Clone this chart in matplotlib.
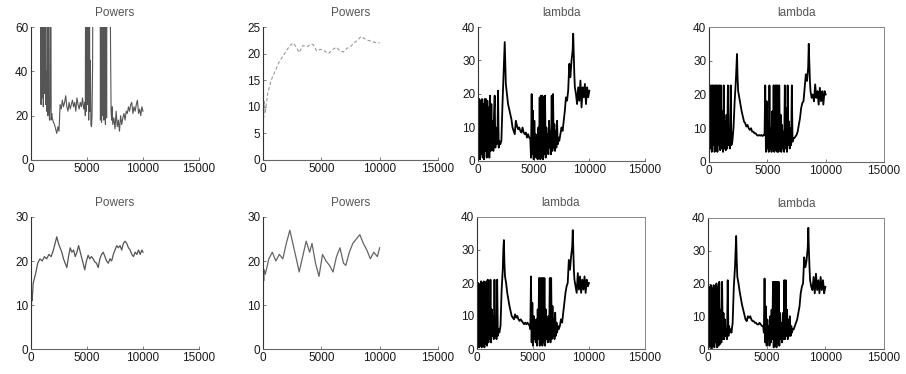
import matplotlib
matplotlib.use("Agg")
import matplotlib.pyplot as plt

plt.rcParams["font.family"] = ["Liberation Sans", "DejaVu Sans"]

W, H = 906, 374

# ---- Powers, top row (clipped at 60) ----
pw1_x = [0, 300, 600, 850, 900, 950, 1000, 1050, 1100, 1150, 1200, 1250, 1300, 1350, 1400, 1450,
         1500, 1550, 1600, 1650, 1700, 1750, 1800, 1850, 1900, 2000, 2100, 2200, 2300, 2400, 2500,
         2600, 2700, 2800, 2900, 3000, 3100, 3200, 3300, 3400, 3500, 3600, 3700, 3800, 3900, 4000,
         4100, 4200, 4300, 4400, 4500, 4600, 4700, 4800, 4850, 4900, 4950, 5000, 5050, 5100, 5150,
         5200, 5250, 5300, 5350, 5400, 5450, 5500, 5550, 5600, 5900, 6150, 6200, 6250, 6300, 6350,
         6400, 6450, 6500, 6550, 6600, 6650, 6700, 6750, 6800, 6900, 7000, 7100, 7150, 7200, 7250,
         7300, 7400, 7500, 7600, 7700, 7800, 7900, 8000, 8100, 8200, 8300, 8400, 8500, 8600, 8700,
         8800, 8900, 9000, 9100, 9200, 9300, 9400, 9500, 9600, 9700, 9800, 9900, 10000]
pw1_y = [200, 180, 160, 120, 25, 150, 28, 150, 24, 120, 30, 150, 25, 40, 22, 150,
         20, 150, 26, 18, 24, 150, 18, 21, 19, 17, 16, 14, 12, 15, 13,
         25, 23, 27, 24, 26, 29, 24, 22, 26, 23, 25, 27, 24, 26, 22,
         28, 25, 23, 26, 24, 28, 23, 26, 20, 150, 22, 150, 25, 150, 18,
         150, 22, 45, 16, 15, 20, 43, 120, 150, 150, 150, 18, 150, 17, 150,
         20, 150, 18, 150, 21, 16, 150, 19, 150, 150, 150, 53, 22, 18, 24,
         16, 19, 14, 22, 15, 18, 13, 20, 16, 19, 21, 18, 22, 21, 24,
         22, 25, 26, 21, 24, 22, 25, 27, 21, 23, 20, 24, 22]

pw2_x = [0, 30, 60, 100, 200, 400, 700, 1000, 1400, 1700, 2000, 2300, 2600, 2900, 3100, 3400,
         3800, 4100, 4300, 4600, 4900, 5200, 5600, 6000, 6300, 6600, 6900, 7200, 7500, 7800,
         8100, 8400, 8700, 9000, 9300, 9600, 10000]
pw2_y = [2, 14, 8, 11, 9, 12.5, 15, 16.5, 18.5, 19.5, 20.5, 21.5, 22, 21, 20.2, 21.5,
         21.3, 21.8, 21.7, 20.5, 20.8, 20.6, 20, 20.8, 21.2, 20.5, 20.3, 21, 21.3, 22,
         22.5, 23.2, 22.8, 22.5, 22.3, 22.1, 22]

# ---- Powers, bottom row ----
pw3_x = [0, 30, 60, 100, 200, 400, 600, 800, 1000, 1200, 1400, 1600, 1800, 2000, 2150, 2300,
         2450, 2600, 2750, 2900, 3050, 3200, 3350, 3500, 3650, 3800, 3950, 4100, 4250, 4400,
         4550, 4700, 4800, 4950, 5100, 5250, 5400, 5550, 5700, 5850, 6000, 6150, 6300, 6450,
         6600, 6750, 6900, 7050, 7200, 7350, 7500, 7650, 7800, 7950, 8100, 8250, 8400, 8550,
         8700, 8850, 9000, 9150, 9300, 9450, 9600, 9750, 9900, 10000]
pw3_y = [29, 8, 13, 11, 15, 17, 19.5, 20.5, 20, 21, 20.5, 21.5, 21, 22.5, 24, 25.5,
         24, 23, 22, 20.5, 19.5, 18.5, 21, 23, 22, 22.5, 21, 22, 23.5, 22,
         20.5, 19, 18, 20, 21.3, 20.5, 21, 20.5, 19.8, 19.5, 18.5, 20.5, 21.5, 22,
         21, 20, 19.5, 20.5, 20, 21.5, 22.5, 23.5, 23, 23.5, 22.5, 24, 24.5, 24,
         23, 22.5, 21.5, 21, 22, 21.5, 22.5, 21.5, 22.5, 22]

pw4_x = [0, 30, 60, 100, 200, 500, 800, 1100, 1400, 1700, 2000, 2300, 2600, 2900, 3100, 3400,
         3700, 4000, 4200, 4500, 4800, 5100, 5400, 5700, 6000, 6300, 6600, 6900, 7100, 7400,
         7700, 8000, 8300, 8600, 8900, 9200, 9500, 9800, 10000]
pw4_y = [7, 17, 15.5, 18, 17, 20.5, 22, 20, 21.5, 20.5, 24, 27, 23.5, 20, 17.5, 21,
         24.5, 22, 24, 19.5, 16.5, 21.5, 20, 19, 17.5, 21, 23, 19.5, 19, 22,
         24, 25, 26, 24, 22.5, 20.5, 22, 21, 23]

# ---- lambda, shared iteration grid ----
lam_x = [0, 60, 120, 180, 240, 300, 360, 420, 480, 540, 600, 660, 720, 780, 840, 900, 960,
         1020, 1080, 1140, 1200, 1260, 1320, 1380, 1440, 1500, 1560, 1620, 1680, 1740, 1800,
         1860, 1920,
         2000, 2100, 2200, 2300, 2350, 2400, 2450, 2500, 2600, 2700, 2800, 2900, 3000, 3100,
         3200, 3300, 3400, 3500, 3600, 3700, 3800, 3900, 4000, 4100, 4200, 4300, 4400, 4500,
         4600, 4700,
         4760, 4820, 4880, 4940, 5000, 5060, 5120, 5180, 5240, 5300, 5360, 5420, 5480, 5540,
         5600, 5660, 5720, 5780, 5840, 5900, 5960, 6020, 6080, 6140, 6200, 6260, 6320, 6380,
         6440, 6500, 6560, 6620, 6680, 6740, 6800, 6860, 6920, 6980, 7040, 7100, 7160, 7220,
         7300, 7400, 7500, 7600, 7700, 7800, 7900, 8000, 8100, 8200, 8300, 8400, 8500, 8550,
         8600, 8650, 8700, 8800, 8900, 9000, 9100, 9200, 9300, 9400, 9500, 9600, 9700, 9800,
         9900, 10000]

lam1_y = [15, 1, 18.5, 0.5, 18, 2, 18.5, 1, 17, 0.5, 18.5, 3, 18.5, 1, 18, 2, 16,
          1, 19.5, 3, 17, 4, 12, 3, 14, 19.5, 4, 10, 5, 6, 21,
          4, 6,
          5, 6, 17, 26, 31, 35.5, 29, 23, 20, 17, 15.5, 14, 12.5, 10,
          9, 8, 12, 10.5, 9.5, 10, 9, 8.5, 10, 8.5, 8, 8.5, 7, 8,
          7, 6.5,
          1, 20, 2, 15, 0.5, 12, 3, 8, 1, 6, 0.5, 10, 2, 19,
          0.5, 19.5, 1, 19.5, 0.5, 19, 2, 19.5, 1, 10, 3, 8, 2, 12,
          4, 9, 2, 19.5, 3, 20, 4, 11, 3, 9, 4, 12, 5, 7,
          6, 8, 10, 9, 12, 15, 19, 18, 21, 29, 25, 30, 33, 38,
          32, 26, 22, 20, 17, 22, 18, 24, 16, 22, 19, 23, 17, 22,
          19, 21]

lam2_y = [3, 22.7, 4, 22.7, 3, 22.7, 5, 22.7, 3, 22.7, 4, 22.7, 3, 22.7, 5, 22.7, 3.5,
          22.7, 4, 15, 3, 22.7, 4, 12, 3.5, 14, 4, 22.7, 5, 8, 4,
          22.7, 5,
          6, 10, 18, 24, 28, 32, 25, 21, 19, 17, 15, 13.5, 12, 11.5,
          10.5, 11, 10, 9.5, 10, 9, 9, 8.5, 8.5, 8, 7.8, 8, 7.8, 8,
          7.7, 8,
          8, 22.7, 3, 18, 4, 12, 3, 22.7, 4, 10, 3, 15, 4, 22.7,
          3, 22.7, 3.5, 22.7, 3, 22.7, 3, 22.7, 4, 14, 3, 11, 4, 9,
          3, 22.7, 4, 16, 3, 22.7, 5, 12, 4, 10, 5, 22.7, 6, 7,
          7, 7.5, 8, 9, 11, 13, 16, 17.5, 18, 22, 26, 24, 28, 35,
          29, 24, 21, 19, 20, 18, 23, 19, 21, 17, 22, 18, 21, 17,
          21, 20]

lam3_y = [17, 1, 20, 0.5, 19.5, 1, 20.5, 0.5, 20, 2, 20.5, 0.5, 19, 1.5, 20.5, 1, 21,
          2, 14, 3, 21, 2, 12, 4, 10, 3, 21, 4, 7, 3, 21,
          4, 6,
          5, 7, 18, 24, 30, 33, 26, 22, 20, 17, 15, 13, 11.5, 10,
          9.5, 9, 10.5, 9.5, 10, 9, 8.5, 9, 8.5, 8, 7.5, 8, 7.5, 8,
          7.5, 7,
          6, 22, 2, 14, 1, 10, 3, 7, 2, 9, 1, 12, 3, 21.5,
          1, 21.5, 1.5, 21.5, 1, 21.5, 2, 21.5, 1, 12, 3, 9, 2, 10,
          3, 21.5, 2, 21.5, 3, 13, 4, 9, 3, 11, 4, 8, 5, 7,
          6, 7, 9, 8, 11, 14, 17, 19, 20, 27, 24, 28, 31, 36,
          30, 24, 21, 19, 17, 23, 18, 22, 17, 21, 18, 22, 17, 21,
          19, 20]

lam4_y = [16, 0.5, 19, 1, 19.5, 0, 18.5, 1, 19.5, 0.5, 19, 2, 20, 0.5, 19, 1, 20.5,
          1.5, 12, 2, 20.5, 3, 11, 3, 9, 4, 6, 3, 21, 4, 7,
          5, 6,
          5, 8, 19, 25, 30, 34.5, 27, 22, 20, 17.5, 15.5, 13.5, 12, 10.5,
          9, 8.5, 10, 9.5, 10, 9, 8.5, 8.5, 8, 8, 7.5, 7.5, 8, 7.5,
          7, 7,
          5, 21.5, 2, 13, 1, 9, 3, 7, 1, 10, 2, 12, 3, 20.5,
          0.5, 20.5, 1, 20.5, 0.5, 20.5, 2, 20.5, 1, 11, 3, 8, 2, 11,
          3, 21, 3, 21, 4, 12, 3, 9, 4, 10, 4, 7, 5, 6,
          6, 7, 8, 9, 11, 13, 17, 19, 20, 28, 25, 27, 31, 37,
          30, 25, 21, 19, 18, 22, 17, 23, 18, 21, 17, 22, 18, 21,
          17, 19]

TICK_COLOR = "#1a1a1a"
SPINE_COLOR = "#666666"
LAM_LW = 1.3


def px_axes(fig, left, top, right, bottom):
    """Add an axes given its pixel box (origin at the top-left corner)."""
    return fig.add_axes([left / W, 1 - bottom / H, (right - left) / W, (bottom - top) / H])


def style(ax, title, ymax, yticks, boxed):
    ax.set_xlim(0, 15000)
    ax.set_ylim(0, ymax)
    ax.set_xticks([0, 5000, 10000, 15000])
    ax.set_yticks(yticks)
    ax.set_title(title, fontsize=8.5, color="#555555", pad=8)
    ax.tick_params(direction="in", length=2.5, width=0.6, colors=SPINE_COLOR,
                   labelcolor=TICK_COLOR, labelsize=8.5, pad=2,
                   top=False, right=False)
    for side in ["left", "bottom"]:
        ax.spines[side].set_color(SPINE_COLOR)
        ax.spines[side].set_linewidth(0.8)
    ax.spines["left"].set_color("#333333")
    for side in ["top", "right"]:
        ax.spines[side].set_visible(boxed)
        ax.spines[side].set_color("#888888")
        ax.spines[side].set_linewidth(0.7)


fig = plt.figure(figsize=(W / 100, H / 100), dpi=100)

ax1 = px_axes(fig, 31, 27, 199, 160)
ax1.plot(pw1_x, pw1_y, color="#555555", linewidth=0.8)
style(ax1, "Powers", 60, [0, 20, 40, 60], False)

ax2 = px_axes(fig, 263, 27, 438, 160)
ax2.plot(pw2_x, pw2_y, color="#9a9a9a", linewidth=0.8, linestyle=(0, (3, 2)))
style(ax2, "Powers", 25, [0, 5, 10, 15, 20, 25], False)

ax3 = px_axes(fig, 478, 27, 645, 161)
ax3.plot(lam_x, lam1_y, color="black", linewidth=LAM_LW)
style(ax3, "lambda", 40, [0, 10, 20, 30, 40], False)

ax4 = px_axes(fig, 709, 27, 884, 162)
ax4.plot(lam_x, lam2_y, color="black", linewidth=LAM_LW)
style(ax4, "lambda", 40, [0, 10, 20, 30, 40], True)

ax5 = px_axes(fig, 31, 217, 199, 349)
ax5.plot(pw3_x, pw3_y, color="#555555", linewidth=0.9)
style(ax5, "Powers", 30, [0, 10, 20, 30], False)

ax6 = px_axes(fig, 263, 217, 438, 349)
ax6.plot(pw4_x, pw4_y, color="#666666", linewidth=0.9)
style(ax6, "Powers", 30, [0, 10, 20, 30], False)

ax7 = px_axes(fig, 477, 217, 645, 349)
ax7.plot(lam_x, lam3_y, color="black", linewidth=LAM_LW)
style(ax7, "lambda", 40, [0, 10, 20, 30, 40], True)

ax8 = px_axes(fig, 708, 218, 884, 349)
ax8.plot(lam_x, lam4_y, color="black", linewidth=LAM_LW)
style(ax8, "lambda", 40, [0, 10, 20, 30, 40], True)

fig.savefig("out.png", dpi=100)
